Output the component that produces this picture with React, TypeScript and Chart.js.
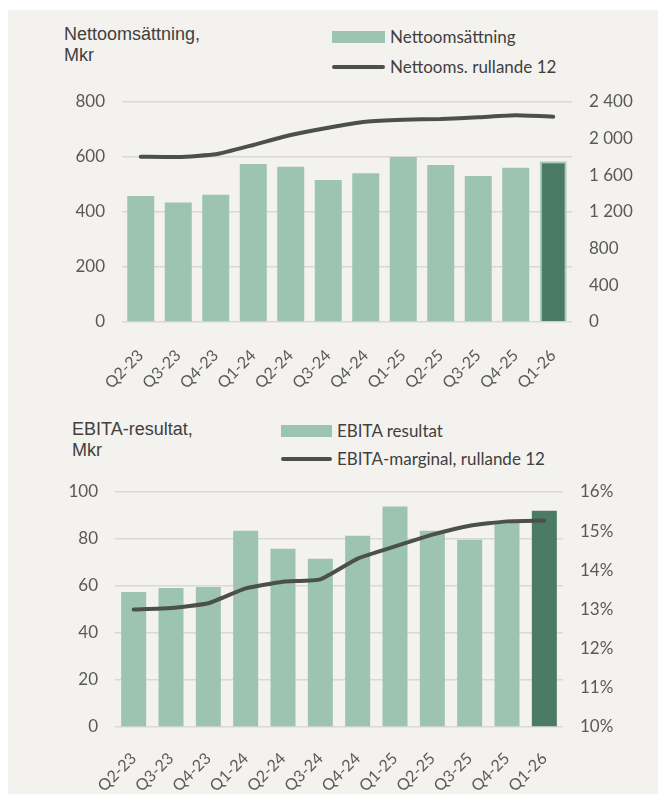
import React, { useEffect, useRef } from "react";
import { Chart, registerables } from "chart.js";

Chart.register(...registerables);

const categories = ["Q2-23", "Q3-23", "Q4-23", "Q1-24", "Q2-24", "Q3-24", "Q4-24", "Q1-25", "Q2-25", "Q3-25", "Q4-25", "Q1-26"];
const netSales = [458, 435, 463, 575, 565, 516, 541, 600, 571, 531, 561, 585];
const netSalesR12 = [1803, 1800, 1829, 1931, 2040, 2120, 2185, 2207, 2215, 2233, 2255, 2240];
const ebita = [57.5, 59.2, 59.6, 83.5, 75.8, 71.6, 81.4, 93.8, 83.5, 79.7, 87.5, 92];
const ebitaMarginR12 = [13.0, 13.04, 13.16, 13.54, 13.71, 13.77, 14.3, 14.61, 14.91, 15.14, 15.25, 15.27];

const LIGHT = "#9DC4B1";
const DARK = "#4B7B65";
const LINE = "#4B504B";
const BG = "#F4F2EE";
const GRID = "#D8D8D6";
const TICK = "#595959";
const TEXT = "#404040";

const fmtSpace = (v: number) => String(v).replace(/\B(?=(\d{3})+(?!\d))/g, " ");

type Spec = {
  top: number;
  height: number;
  leftW: number;
  rightW: number;
  xH: number;
  padTop: number;
  barData: number[];
  lineData: number[];
  barLabel: string;
  lineLabel: string;
  leftMax: number;
  leftStep: number;
  rightMin: number;
  rightMax: number;
  rightStep: number;
  rightFmt: (v: number) => string;
  barPct: number;
  lastBorder: boolean;
  xPad: number;
};

function ComboChart({ spec }: { spec: Spec }) {
  const ref = useRef<HTMLCanvasElement | null>(null);
  useEffect(() => {
    if (!ref.current) return;
    const n = spec.barData.length;
    const chart = new Chart(ref.current, {
      type: "bar",
      data: {
        labels: categories,
        datasets: [
          {
            type: "line",
            label: spec.lineLabel,
            data: spec.lineData,
            yAxisID: "y1",
            borderColor: LINE,
            borderWidth: 4,
            borderCapStyle: "round",
            borderJoinStyle: "round",
            pointRadius: 0,
            tension: 0.15,
            order: 0,
          } as any,
          {
            type: "bar",
            label: spec.barLabel,
            data: spec.barData,
            yAxisID: "y",
            backgroundColor: spec.barData.map((_, i) => (i === n - 1 ? DARK : LIGHT)),
            borderColor: spec.barData.map((_, i) => (i === n - 1 && spec.lastBorder ? "#A9CEBB" : "rgba(0,0,0,0)")),
            borderWidth: spec.barData.map((_, i) => (i === n - 1 && spec.lastBorder ? 2 : 0)),
            barPercentage: spec.barPct,
            categoryPercentage: 1,
            order: 1,
          } as any,
        ],
      },
      options: {
        responsive: false,
        animation: false,
        devicePixelRatio: 1,
        layout: { padding: { top: spec.padTop, left: 0, right: 0, bottom: 0 } },
        plugins: { legend: { display: false }, tooltip: { enabled: false } },
        font: { family: "Lato" },
        scales: {
          x: {
            grid: { display: false, drawTicks: false },
            border: { display: false },
            ticks: {
              autoSkip: false,
              maxRotation: 45,
              minRotation: 45,
              padding: spec.xPad,
              color: TICK,
              font: { family: "Lato", size: 16 },
            },
            afterFit: (s: any) => {
              s.height = spec.xH;
              s.paddingLeft = 0;
              s.paddingRight = 0;
            },
          },
          y: {
            position: "left",
            min: 0,
            max: spec.leftMax,
            grid: { color: GRID, lineWidth: 1.5, drawTicks: false },
            border: { display: false },
            ticks: {
              stepSize: spec.leftStep,
              padding: 17,
              color: TICK,
              font: { family: "Lato", size: 17 },
            },
            afterFit: (s: any) => {
              s.width = spec.leftW;
              s.paddingTop = 0;
              s.paddingBottom = 0;
            },
          },
          y1: {
            position: "right",
            min: spec.rightMin,
            max: spec.rightMax,
            grid: { display: false, drawTicks: false },
            border: { display: false },
            ticks: {
              stepSize: spec.rightStep,
              padding: 17,
              color: TICK,
              font: { family: "Lato", size: 17 },
              callback: (v: any) => spec.rightFmt(Number(v)),
            },
            afterFit: (s: any) => {
              s.width = spec.rightW;
              s.paddingTop = 0;
              s.paddingBottom = 0;
            },
          },
        },
      } as any,
    });
    return () => chart.destroy();
  }, [spec]);
  return (
    <canvas
      ref={ref}
      width={650}
      height={spec.height}
      style={{ position: "absolute", left: 8, top: spec.top, width: 650, height: spec.height }}
    />
  );
}

const topSpec: Spec = {
  top: 80,
  height: 320,
  leftW: 114,
  rightW: 86,
  xH: 78,
  padTop: 22,
  barData: netSales,
  lineData: netSalesR12,
  barLabel: "Nettoomsättning",
  lineLabel: "Nettooms. rullande 12",
  leftMax: 800,
  leftStep: 200,
  rightMin: 0,
  rightMax: 2400,
  rightStep: 400,
  rightFmt: fmtSpace,
  barPct: 0.72,
  lastBorder: true,
  xPad: 24,
};

const bottomSpec: Spec = {
  top: 470,
  height: 324,
  leftW: 107,
  rightW: 95,
  xH: 67,
  padTop: 22,
  barData: ebita,
  lineData: ebitaMarginR12,
  barLabel: "EBITA resultat",
  lineLabel: "EBITA-marginal, rullande 12",
  leftMax: 100,
  leftStep: 20,
  rightMin: 10,
  rightMax: 16,
  rightStep: 1,
  rightFmt: (v: number) => v + "%",
  barPct: 0.67,
  lastBorder: false,
  xPad: 22,
};

const titleStyle: React.CSSProperties = {
  position: "absolute",
  fontFamily: "'Liberation Sans', Arial, sans-serif",
  fontSize: 18,
  lineHeight: "20.5px",
  color: TEXT,
  whiteSpace: "nowrap",
};

const legendText: React.CSSProperties = {
  position: "absolute",
  fontFamily: "Lato, sans-serif",
  fontSize: 17,
  lineHeight: "20px",
  color: TEXT,
  whiteSpace: "nowrap",
};

function Legend({ x, y1, y2, w, barLabel, lineLabel }: { x: number; y1: number; y2: number; w: number; barLabel: string; lineLabel: string }) {
  return (
    <>
      <div style={{ position: "absolute", left: x, top: y1 - 6, width: w, height: 12, background: LIGHT }} />
      <div style={{ ...legendText, left: x + w + 5, top: y1 - 10 }}>{barLabel}</div>
      <div style={{ position: "absolute", left: x, top: y2 - 2, width: w, height: 4, borderRadius: 2, background: LINE }} />
      <div style={{ ...legendText, left: x + w + 5, top: y2 - 10 }}>{lineLabel}</div>
    </>
  );
}

export default function App() {
  return (
    <div style={{ position: "absolute", left: 0, top: 0, width: 658, height: 794, background: "#fff", overflow: "hidden" }}>
      <div style={{ position: "absolute", left: 8, top: 10, width: 650, height: 784, background: BG }} />
      <div style={{ ...titleStyle, left: 64, top: 24 }}>
        Nettoomsättning,
        <br />
        Mkr
      </div>
      <Legend x={332} y1={37} y2={67} w={53} barLabel="Nettoomsättning" lineLabel="Nettooms. rullande 12" />
      <ComboChart spec={topSpec} />
      <div style={{ ...titleStyle, left: 72, top: 419 }}>
        EBITA-resultat,
        <br />
        Mkr
      </div>
      <Legend x={281} y1={431} y2={459} w={51} barLabel="EBITA resultat" lineLabel="EBITA-marginal, rullande 12" />
      <ComboChart spec={bottomSpec} />
    </div>
  );
}
